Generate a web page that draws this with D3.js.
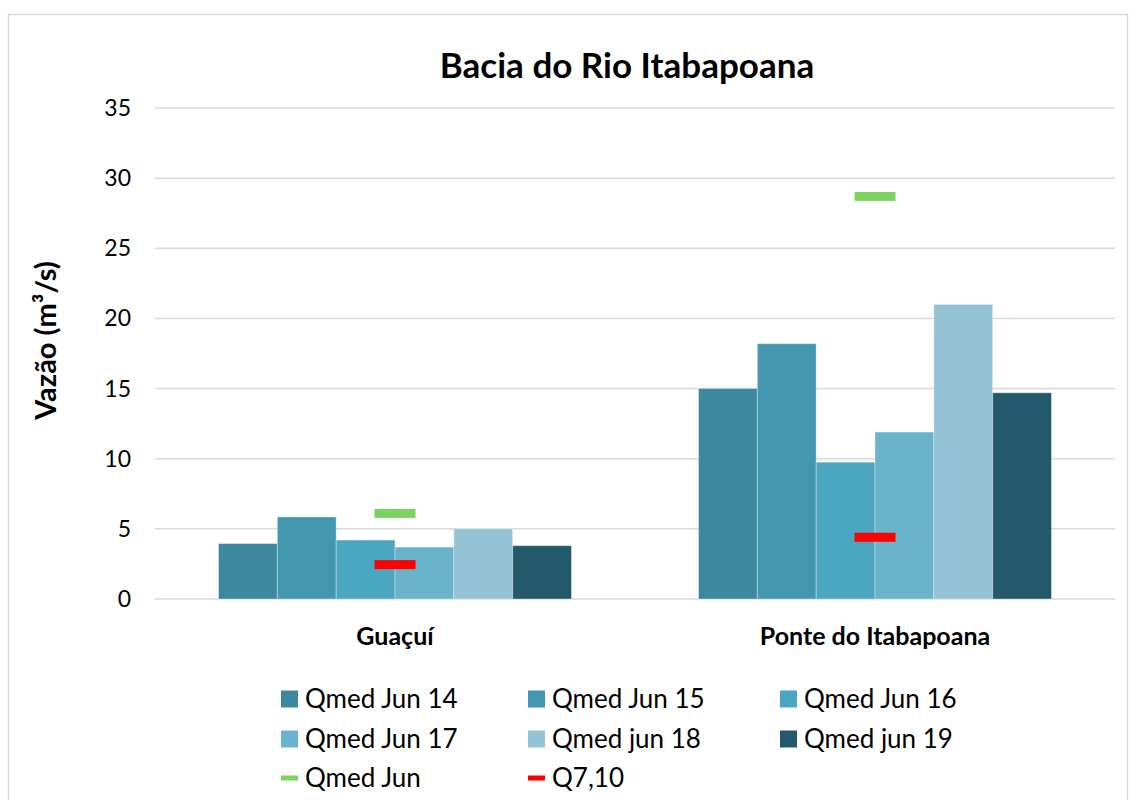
<!DOCTYPE html>
<html>
<head>
<meta charset="utf-8">
<script src="https://cdn.jsdelivr.net/npm/d3@7"></script>
<style>
  body { margin: 0; background: #fff; }
  svg text { font-family: Lato, "Open Sans", sans-serif; fill: #000; }
</style>
</head>
<body>
<svg id="chart" width="1131" height="800"></svg>
<script>
// data
var stations = ["Guaçuí", "Ponte do Itabapoana"];
var seriesNames = ["Qmed Jun 14", "Qmed Jun 15", "Qmed Jun 16", "Qmed Jun 17", "Qmed jun 18", "Qmed jun 19"];
var seriesColors = ["#3c889e", "#4398b0", "#4aa6c1", "#69b3cb", "#93c3d4", "#225a6b"];
var guacui = [3.95, 5.85, 4.2, 3.7, 5.0, 3.8];
var ponte = [15.0, 18.2, 9.75, 11.9, 21.0, 14.7];
var qmedJun = [6.1, 28.7];
var q710 = [2.45, 4.4];
var yTicks = [0, 5, 10, 15, 20, 25, 30, 35];

var svg = d3.select("#chart");

// outer chart border
svg.append("rect")
    .attr("x", 8.5).attr("y", 14.5)
    .attr("width", 1119).attr("height", 800)
    .attr("fill", "none")
    .attr("stroke", "#d9d9d9")
    .attr("stroke-width", 1.5);

var plot = {left: 155, right: 1115, top: 108, bottom: 599};

var x = d3.scaleBand()
    .domain(stations)
    .range([plot.left, plot.right]);

var xInner = d3.scaleBand()
    .domain(seriesNames)
    .range([0, x.bandwidth()])
    .paddingOuter(1.08);

var y = d3.scaleLinear()
    .domain([0, 35])
    .range([plot.bottom, plot.top]);

// gridlines
svg.append("g")
    .selectAll("line")
    .data(yTicks)
    .enter().append("line")
    .attr("x1", plot.left).attr("x2", plot.right)
    .attr("y1", function (d) { return y(d); })
    .attr("y2", function (d) { return y(d); })
    .attr("stroke", "#d9d9d9")
    .attr("stroke-width", 1.5);

// y tick labels
svg.append("g")
    .selectAll("text")
    .data(yTicks)
    .enter().append("text")
    .attr("x", 131)
    .attr("y", function (d) { return y(d); })
    .attr("dy", "0.35em")
    .attr("text-anchor", "end")
    .style("font-size", "23px")
    .text(function (d) { return d; });

// bars
var rows = [guacui, ponte];
var groups = svg.append("g")
    .selectAll("g")
    .data(stations)
    .enter().append("g")
    .attr("transform", function (d) { return "translate(" + x(d) + ",0)"; });

groups.selectAll("rect")
    .data(function (d, i) {
        return rows[i].map(function (v, j) { return {name: seriesNames[j], value: v, color: seriesColors[j]}; });
    })
    .enter().append("rect")
    .attr("x", function (d) { return xInner(d.name); })
    .attr("width", xInner.bandwidth())
    .attr("y", function (d) { return y(d.value); })
    .attr("height", function (d) { return y(0) - y(d.value); })
    .attr("fill", function (d) { return d.color; })
    .attr("stroke", "#ffffff")
    .attr("stroke-opacity", 0.35)
    .attr("stroke-width", 1);

// dash markers for Qmed Jun and Q7,10
function dashMarkers(values, color) {
    svg.append("g")
        .selectAll("rect")
        .data(stations)
        .enter().append("rect")
        .attr("x", function (d) { return x(d) + x.bandwidth() / 2 - 20.5; })
        .attr("width", 41)
        .attr("y", function (d, i) { return y(values[i]) - 4.5; })
        .attr("height", 9)
        .attr("fill", color);
}
dashMarkers(qmedJun, "#7dd35f");
dashMarkers(q710, "#ff0000");

// category labels
svg.append("g")
    .selectAll("text")
    .data(stations)
    .enter().append("text")
    .attr("x", function (d) { return x(d) + x.bandwidth() / 2; })
    .attr("y", 645)
    .attr("text-anchor", "middle")
    .style("font-size", "25px")
    .style("font-weight", "bold")
    .text(function (d) { return d; });

// title
svg.append("text")
    .attr("x", 627).attr("y", 78)
    .attr("text-anchor", "middle")
    .style("font-size", "35px")
    .style("font-weight", "bold")
    .text("Bacia do Rio Itabapoana");

// y axis title
svg.append("text")
    .attr("transform", "translate(56," + ((plot.top + plot.bottom) / 2 - 13) + ") rotate(-90)")
    .attr("text-anchor", "middle")
    .style("font-size", "29px")
    .style("font-weight", "bold")
    .text("Vazão (m³/s)");

// legend
var legendItems = seriesNames.map(function (n, i) { return {name: n, color: seriesColors[i], type: "box"}; })
    .concat([{name: "Qmed Jun", color: "#7dd35f", type: "line"}, {name: "Q7,10", color: "#ff0000", type: "line"}]);
var colX = [281, 528, 780];
var rowY = [699, 739, 778];

var leg = svg.append("g")
    .selectAll("g")
    .data(legendItems)
    .enter().append("g")
    .attr("transform", function (d, i) { return "translate(" + colX[i % 3] + "," + rowY[Math.floor(i / 3)] + ")"; });

leg.append("rect")
    .attr("x", 0)
    .attr("y", function (d) { return d.type == "box" ? -8.5 : -2.5; })
    .attr("width", 17)
    .attr("height", function (d) { return d.type == "box" ? 17 : 5; })
    .attr("fill", function (d) { return d.color; });

leg.append("text")
    .attr("x", 24)
    .attr("dy", "0.36em")
    .style("font-size", "26px")
    .text(function (d) { return d.name; });
</script>
</body>
</html>
